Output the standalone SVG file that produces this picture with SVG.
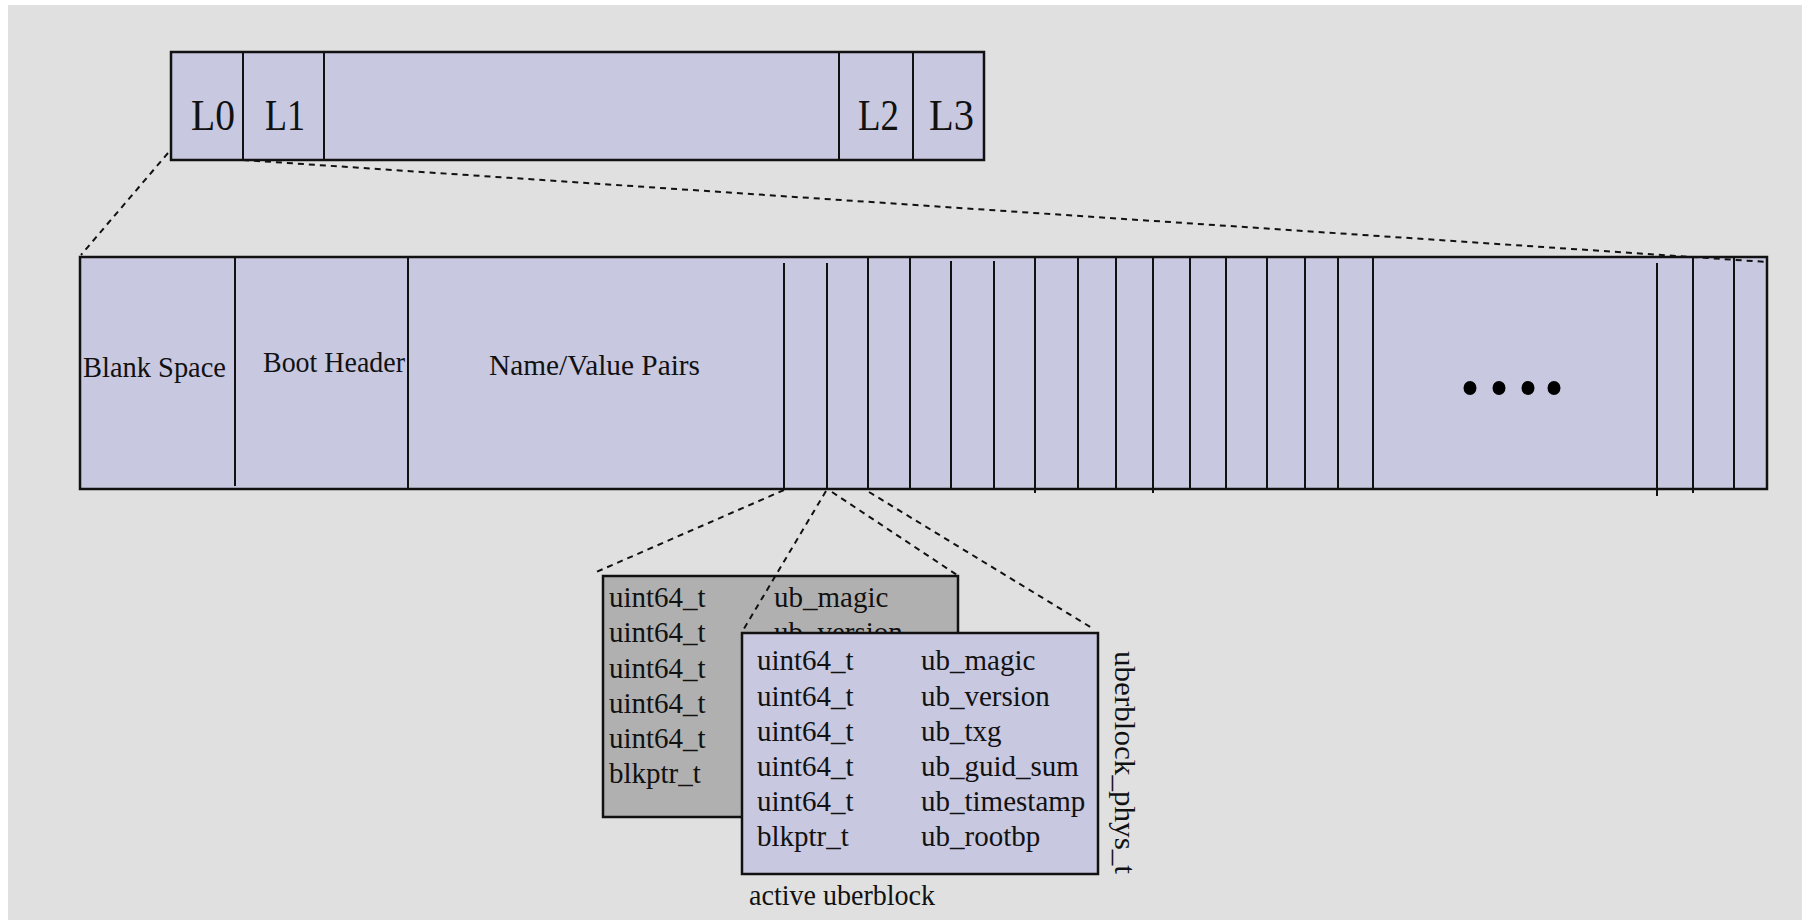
<svg xmlns="http://www.w3.org/2000/svg" width="1811" height="920" viewBox="0 0 1811 920">
  <style>
    .bg { fill: #e0e0e0; }
    .box { fill: #c8c8e0; stroke: #111; stroke-width: 2.5; }
    .old { fill: #b0b0b0; stroke: #111; stroke-width: 2.5; }
    .div { stroke: #111; stroke-width: 2; fill: none; }
    .dash { stroke: #111; stroke-width: 2; stroke-dasharray: 6 5; fill: none; }
    .t { font-family: "Liberation Serif", "Times New Roman", serif; font-size: 29px; fill: #111; }
    .big { font-size: 45px; }
    .dot { fill: #000; }
  </style>
  <defs>
    <!-- the older uberblock is partly covered by the active one -->
    <clipPath id="old-visible">
      <rect x="600" y="570" width="142" height="250"/>
      <rect x="742" y="570" width="220" height="62"/>
    </clipPath>
  </defs>

  <!-- page background -->
  <rect class="bg" x="8" y="5" width="1794" height="915"/>

  <!-- vdev label layout: L0 L1 ... L2 L3 -->
  <g id="vdev">
    <rect class="box" x="171" y="52" width="813" height="108"/>
    <line class="div" x1="243" y1="52" x2="243" y2="160"/>
    <line class="div" x1="324" y1="52" x2="324" y2="160"/>
    <line class="div" x1="839" y1="52" x2="839" y2="160"/>
    <line class="div" x1="913" y1="52" x2="913" y2="160"/>
    <text class="t big" x="191" y="130" textLength="44" lengthAdjust="spacingAndGlyphs">L0</text>
    <text class="t big" x="265" y="130" textLength="40" lengthAdjust="spacingAndGlyphs">L1</text>
    <text class="t big" x="858" y="130" textLength="41" lengthAdjust="spacingAndGlyphs">L2</text>
    <text class="t big" x="929" y="130" textLength="45" lengthAdjust="spacingAndGlyphs">L3</text>
  </g>

  <!-- single label expanded -->
  <g id="label">
    <rect class="box" x="80" y="257" width="1687" height="232"/>
    <line class="div" x1="235" y1="257" x2="235" y2="486"/>
    <line class="div" x1="408" y1="257" x2="408" y2="489"/>
    <line class="div" x1="784" y1="263" x2="784" y2="489"/>
    <line class="div" x1="827" y1="263" x2="827" y2="489"/>
    <line class="div" x1="868" y1="257" x2="868" y2="489"/>
    <line class="div" x1="910" y1="257" x2="910" y2="489"/>
    <line class="div" x1="951" y1="261" x2="951" y2="489"/>
    <line class="div" x1="994" y1="261" x2="994" y2="489"/>
    <line class="div" x1="1035" y1="257" x2="1035" y2="493"/>
    <line class="div" x1="1078" y1="257" x2="1078" y2="489"/>
    <line class="div" x1="1116" y1="257" x2="1116" y2="489"/>
    <line class="div" x1="1153" y1="257" x2="1153" y2="493"/>
    <line class="div" x1="1190" y1="257" x2="1190" y2="489"/>
    <line class="div" x1="1226" y1="257" x2="1226" y2="489"/>
    <line class="div" x1="1267" y1="257" x2="1267" y2="489"/>
    <line class="div" x1="1305" y1="257" x2="1305" y2="489"/>
    <line class="div" x1="1338" y1="257" x2="1338" y2="489"/>
    <line class="div" x1="1373" y1="257" x2="1373" y2="489"/>
    <line class="div" x1="1657" y1="263" x2="1657" y2="496"/>
    <line class="div" x1="1693" y1="257" x2="1693" y2="493"/>
    <line class="div" x1="1734" y1="257" x2="1734" y2="489"/>
    <text class="t" x="83" y="377" textLength="143" lengthAdjust="spacingAndGlyphs">Blank Space</text>
    <text class="t" x="263" y="372" textLength="142" lengthAdjust="spacingAndGlyphs">Boot Header</text>
    <text class="t" x="489" y="375" textLength="211" lengthAdjust="spacingAndGlyphs">Name/Value Pairs</text>
    <ellipse class="dot" cx="1470" cy="388" rx="6.5" ry="7"/>
    <ellipse class="dot" cx="1499" cy="388" rx="6.5" ry="7"/>
    <ellipse class="dot" cx="1528" cy="388" rx="6.5" ry="7"/>
    <ellipse class="dot" cx="1554" cy="388" rx="6.5" ry="7"/>
  </g>

  <!-- older uberblock (behind) -->
  <g id="uberblock-old">
    <rect class="old" x="603" y="576" width="355" height="241"/>
    <g clip-path="url(#old-visible)">
      <text class="t" x="609" y="607">uint64_t</text>
      <text class="t" x="609" y="642">uint64_t</text>
      <text class="t" x="609" y="678">uint64_t</text>
      <text class="t" x="609" y="713">uint64_t</text>
      <text class="t" x="609" y="748">uint64_t</text>
      <text class="t" x="609" y="783">blkptr_t</text>
      <text class="t" x="774" y="607">ub_magic</text>
      <text class="t" x="774" y="642">ub_version</text>
    </g>
  </g>

  <!-- active uberblock (front) -->
  <g id="uberblock-active">
    <rect class="box" x="742" y="633" width="356" height="241"/>
    <text class="t" x="757" y="670">uint64_t</text>
    <text class="t" x="757" y="706">uint64_t</text>
    <text class="t" x="757" y="741">uint64_t</text>
    <text class="t" x="757" y="776">uint64_t</text>
    <text class="t" x="757" y="811">uint64_t</text>
    <text class="t" x="757" y="846">blkptr_t</text>
    <text class="t" x="921" y="670">ub_magic</text>
    <text class="t" x="921" y="706">ub_version</text>
    <text class="t" x="921" y="741">ub_txg</text>
    <text class="t" x="921" y="776">ub_guid_sum</text>
    <text class="t" x="921" y="811">ub_timestamp</text>
    <text class="t" x="921" y="846">ub_rootbp</text>
  </g>

  <g id="caption-active">
    <text class="t" x="749" y="905" textLength="186" lengthAdjust="spacingAndGlyphs">active uberblock</text>
  </g>

  <g id="caption-type">
    <text class="t" transform="translate(1115,651) rotate(90)" textLength="223" lengthAdjust="spacingAndGlyphs">uberblock_phys_t</text>
  </g>

  <!-- expansion guides -->
  <g id="connectors">
    <line class="dash" x1="168" y1="153" x2="81" y2="255"/>
    <line class="dash" x1="243" y1="160" x2="1767" y2="262"/>
    <line class="dash" x1="784" y1="490" x2="594" y2="573"/>
    <line class="dash" x1="826" y1="491" x2="742" y2="632"/>
    <line class="dash" x1="832" y1="492" x2="957" y2="575"/>
    <line class="dash" x1="869" y1="492" x2="1092" y2="628"/>
  </g>
</svg>
